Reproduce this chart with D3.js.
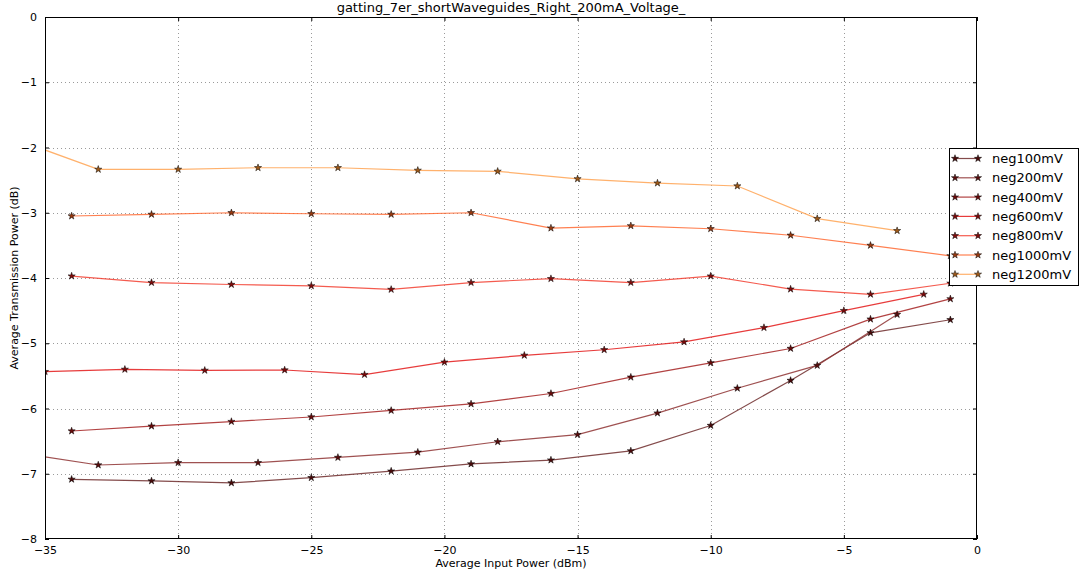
<!DOCTYPE html>
<html>
<head>
<meta charset="utf-8">
<script src="https://cdn.jsdelivr.net/npm/d3@7"></script>
<style>
  body { margin: 0; background: #fff; }
  svg { display: block; font-family: "DejaVu Sans", sans-serif; }
</style>
</head>
<body>
<svg id="chart" width="1079" height="576"></svg>
<script>
const title = "gatting_7er_shortWaveguides_Right_200mA_Voltage_";
const xLabel = "Average Input Power (dBm)";
const yLabel = "Average Transmission Power (dB)";
const xTicks = [-35, -30, -25, -20, -15, -10, -5, 0];
const yTicks = [0, -1, -2, -3, -4, -5, -6, -7, -8];

const seriesNames = ["neg100mV", "neg200mV", "neg400mV", "neg600mV", "neg800mV", "neg1000mV", "neg1200mV"];

const neg100X = [-34, -31, -28, -25, -22, -19, -16, -13, -10, -7, -4, -1];
const neg100Y = [-7.085, -7.11, -7.14, -7.06, -6.96, -6.85, -6.79, -6.65, -6.26, -5.57, -4.84, -4.64];

const neg200X = [-36, -33, -30, -27, -24, -21, -18, -15, -12, -9, -6, -3];
const neg200Y = [-6.68, -6.866, -6.83, -6.83, -6.75, -6.67, -6.51, -6.40, -6.07, -5.69, -5.34, -4.56];

const neg400X = [-34, -31, -28, -25, -22, -19, -16, -13, -10, -7, -4, -1];
const neg400Y = [-6.345, -6.27, -6.20, -6.13, -6.03, -5.93, -5.77, -5.52, -5.30, -5.08, -4.63, -4.32];

const neg600X = [-35, -32, -29, -26, -23, -20, -17, -14, -11, -8, -5, -2];
const neg600Y = [-5.435, -5.40, -5.415, -5.41, -5.48, -5.29, -5.185, -5.10, -4.98, -4.76, -4.50, -4.25];

const neg800X = [-34, -31, -28, -25, -22, -19, -16, -13, -10, -7, -4, -1];
const neg800Y = [-3.97, -4.07, -4.10, -4.12, -4.175, -4.07, -4.01, -4.07, -3.97, -4.17, -4.25, -4.08];

const neg1000X = [-34, -31, -28, -25, -22, -19, -16, -13, -10, -7, -4, -1];
const neg1000Y = [-3.05, -3.025, -3.0, -3.015, -3.025, -3.0, -3.235, -3.20, -3.245, -3.345, -3.50, -3.66];

const neg1200X = [-36, -33, -30, -27, -24, -21, -18, -15, -12, -9, -6, -3];
const neg1200Y = [-1.89, -2.335, -2.335, -2.31, -2.31, -2.35, -2.365, -2.48, -2.545, -2.59, -3.09, -3.275];

const seriesColors = ["#6e2c2c", "#8e3232", "#a52222", "#e31a1a", "#f23e30", "#ff6a33", "#ffa352"];
const markerColors = ["#4a0a0a", "#5a0c0c", "#6a0a0a", "#7a0808", "#800c0c", "#9a3a10", "#a05a18"];

const seriesX = [neg100X, neg200X, neg400X, neg600X, neg800X, neg1000X, neg1200X];
const seriesY = [neg100Y, neg200Y, neg400Y, neg600Y, neg800Y, neg1000Y, neg1200Y];

const series = seriesNames.map((name, i) => ({
  name,
  color: seriesColors[i],
  marker: markerColors[i],
  points: seriesX[i].map((xv, j) => ({ x: xv, y: seriesY[i][j] }))
}));

const svg = d3.select("#chart");
const mL = 45, mR = 977, mT = 17, mB = 539;

const x = d3.scaleLinear().domain([-35, 0]).range([mL, mR]);
const y = d3.scaleLinear().domain([-8, 0]).range([mB, mT]);

svg.append("defs").append("clipPath").attr("id", "clip")
  .append("rect").attr("x", mL).attr("y", mT)
  .attr("width", mR - mL).attr("height", mB - mT);

// grid
const grid = svg.append("g");
grid.selectAll(".gx").data(xTicks.slice(1, -1)).enter().append("line")
  .attr("x1", d => Math.round(x(d)) + 0.5).attr("x2", d => Math.round(x(d)) + 0.5)
  .attr("y1", mT).attr("y2", mB)
  .attr("stroke", "#9a9a9a").attr("stroke-width", 1).attr("stroke-dasharray", "1,3");
grid.selectAll(".gy").data(yTicks.slice(1, -1)).enter().append("line")
  .attr("y1", d => Math.round(y(d)) + 0.5).attr("y2", d => Math.round(y(d)) + 0.5)
  .attr("x1", mL).attr("x2", mR)
  .attr("stroke", "#9a9a9a").attr("stroke-width", 1).attr("stroke-dasharray", "1,3");

// data
const line = d3.line().x(d => x(d.x)).y(d => y(d.y));
const star = d3.symbol().type(d3.symbolStar).size(16);
const plot = svg.append("g").attr("clip-path", "url(#clip)");
series.forEach(s => {
  plot.append("path").datum(s.points)
    .attr("d", line).attr("fill", "none")
    .attr("stroke", s.color).attr("stroke-width", 1.2).attr("stroke-opacity", 0.85);
});
series.forEach(s => {
  plot.selectAll(null).data(s.points).enter().append("path")
    .attr("d", star)
    .attr("transform", d => `translate(${x(d.x)},${y(d.y)})`)
    .attr("fill", s.marker).attr("stroke", "#000").attr("stroke-width", 0.5);
});

// axes (ticks inside on all sides)
const fmt = d => (d < 0 ? "\u2212" + Math.abs(d) : String(d));
const axB = svg.append("g").attr("transform", `translate(0,${mB})`)
  .call(d3.axisBottom(x).tickValues(xTicks).tickSizeInner(-4).tickSizeOuter(0).tickPadding(7).tickFormat(fmt));
const axT = svg.append("g").attr("transform", `translate(0,${mT})`)
  .call(d3.axisTop(x).tickValues(xTicks).tickSizeInner(-4).tickSizeOuter(0).tickFormat(""));
const axL = svg.append("g").attr("transform", `translate(${mL},0)`)
  .call(d3.axisLeft(y).tickValues(yTicks).tickSizeInner(-4).tickSizeOuter(0).tickPadding(8).tickFormat(fmt));
const axR = svg.append("g").attr("transform", `translate(${mR},0)`)
  .call(d3.axisRight(y).tickValues(yTicks).tickSizeInner(-4).tickSizeOuter(0).tickFormat(""));
[axB, axT, axL, axR].forEach(a => {
  a.select(".domain").remove();
  a.selectAll("text").attr("font-family", "DejaVu Sans").attr("font-size", 11).attr("fill", "#000");
  a.selectAll("line").attr("stroke", "#000");
});

svg.append("rect").attr("x", mL + 0.5).attr("y", mT + 0.5)
  .attr("width", mR - mL - 1).attr("height", mB - mT - 1)
  .attr("fill", "none").attr("stroke", "#000").attr("stroke-width", 1);

// labels
svg.append("text").attr("x", (mL + mR) / 2).attr("y", 12)
  .attr("text-anchor", "middle").attr("font-size", 13).text(title);
svg.append("text").attr("x", (mL + mR) / 2).attr("y", 567)
  .attr("text-anchor", "middle").attr("font-size", 11).text(xLabel);
svg.append("text").attr("transform", `translate(18,${(mT + mB) / 2}) rotate(-90)`)
  .attr("text-anchor", "middle").attr("font-size", 11).text(yLabel);

// legend
const lg = svg.append("g");
lg.append("rect").attr("x", 949.5).attr("y", 148.5).attr("width", 129).attr("height", 137)
  .attr("fill", "#fff").attr("stroke", "#000").attr("stroke-width", 1);
series.forEach((s, i) => {
  const yy = 158.5 + i * 19.3;
  lg.append("line").attr("x1", 955).attr("x2", 978).attr("y1", yy).attr("y2", yy)
    .attr("stroke", s.color).attr("stroke-width", 1.2).attr("stroke-opacity", 0.85);
  [955, 978].forEach(px => {
    lg.append("path").attr("d", star).attr("transform", `translate(${px},${yy})`)
      .attr("fill", s.marker).attr("stroke", "#000").attr("stroke-width", 0.5);
  });
  lg.append("text").attr("x", 992).attr("y", yy).attr("dy", "0.36em")
    .attr("font-size", 13).text(s.name);
});
</script>
</body>
</html>
